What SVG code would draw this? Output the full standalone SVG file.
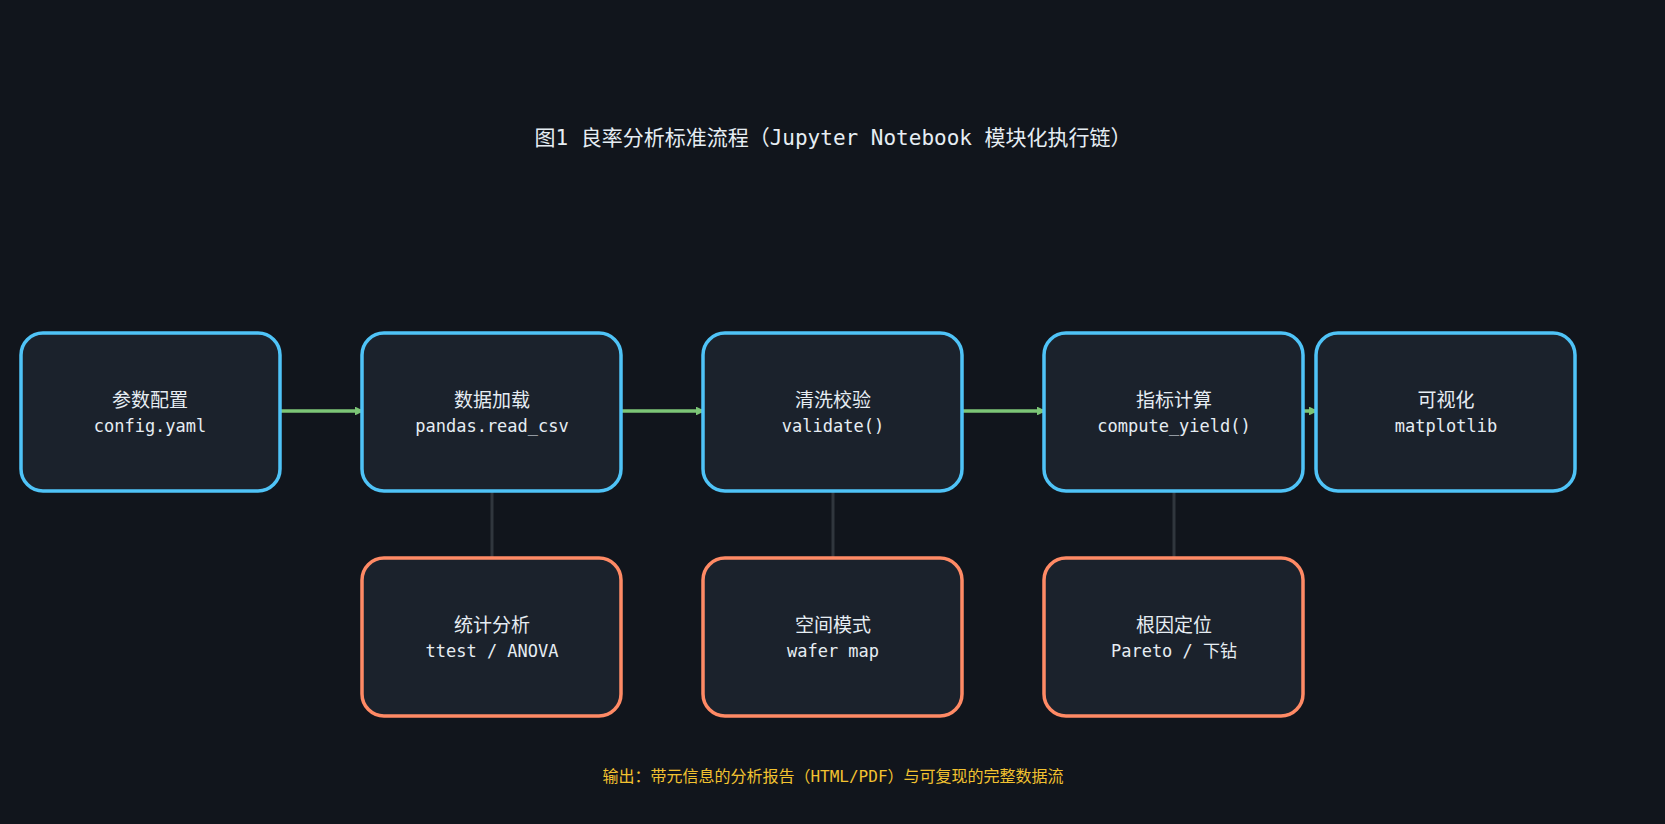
<svg xmlns="http://www.w3.org/2000/svg" width="1665" height="824" viewBox="0 0 1665 824">
<style>
text{font-family:"DejaVu Sans Mono","Noto Sans CJK SC",monospace;text-anchor:middle;fill:#e6edf3}
.t{font-size:19px}.s{font-size:17px}
.main{fill:#1b222c;stroke:#4fc3f7;stroke-width:3.5}
.sub{fill:#1b222c;stroke:#ff8a65;stroke-width:3.5}
.a{stroke:#7cc576;stroke-width:3.5;fill:none;marker-end:url(#ah)}
.v{stroke:#30363d;stroke-width:3}
</style>
<defs><marker id="ah" markerWidth="8" markerHeight="8" refX="6" refY="4" orient="auto" markerUnits="userSpaceOnUse"><path d="M0,0 L8,4 L0,8 Z" fill="#7cc576" transform="scale(1.6) translate(-2.5,-1.5)"/></marker></defs>
<rect width="1665" height="824" fill="#11151c"/>
<text x="833" y="145" style="font-size:21px">图1 良率分析标准流程（Jupyter Notebook 模块化执行链）</text>
<g id="connectors">
<line class="a" x1="278" y1="411" x2="361" y2="411"/>
<line class="a" x1="619" y1="411" x2="702" y2="411"/>
<line class="a" x1="960" y1="411" x2="1043" y2="411"/>
<line class="a" x1="1301" y1="411" x2="1315" y2="411"/>
<line class="v" x1="492" y1="483" x2="492" y2="565"/>
<line class="v" x1="833" y1="483" x2="833" y2="565"/>
<line class="v" x1="1174" y1="483" x2="1174" y2="565"/>
</g>
<g id="n1"><rect class="main" x="21" y="333" width="259" height="158" rx="22"/><text class="t" x="150" y="407">参数配置</text><text class="s" x="150" y="432">config.yaml</text></g>
<g id="n2"><rect class="main" x="362" y="333" width="259" height="158" rx="22"/><text class="t" x="492" y="407">数据加载</text><text class="s" x="492" y="432">pandas.read_csv</text></g>
<g id="n3"><rect class="main" x="703" y="333" width="259" height="158" rx="22"/><text class="t" x="833" y="407">清洗校验</text><text class="s" x="833" y="432">validate()</text></g>
<g id="n4"><rect class="main" x="1044" y="333" width="259" height="158" rx="22"/><text class="t" x="1174" y="407">指标计算</text><text class="s" x="1174" y="432">compute_yield()</text></g>
<g id="n5"><rect class="main" x="1316" y="333" width="259" height="158" rx="22"/><text class="t" x="1446" y="407">可视化</text><text class="s" x="1446" y="432">matplotlib</text></g>
<g id="s1"><rect class="sub" x="362" y="558" width="259" height="158" rx="22"/><text class="t" x="492" y="632">统计分析</text><text class="s" x="492" y="657">ttest / ANOVA</text></g>
<g id="s2"><rect class="sub" x="703" y="558" width="259" height="158" rx="22"/><text class="t" x="833" y="632">空间模式</text><text class="s" x="833" y="657">wafer map</text></g>
<g id="s3"><rect class="sub" x="1044" y="558" width="259" height="158" rx="22"/><text class="t" x="1174" y="632">根因定位</text><text class="s" x="1174" y="657">Pareto / 下钻</text></g>
<text x="833" y="782" style="font-size:16px;fill:#f2c230">输出：带元信息的分析报告（HTML/PDF）与可复现的完整数据流</text>
</svg>
